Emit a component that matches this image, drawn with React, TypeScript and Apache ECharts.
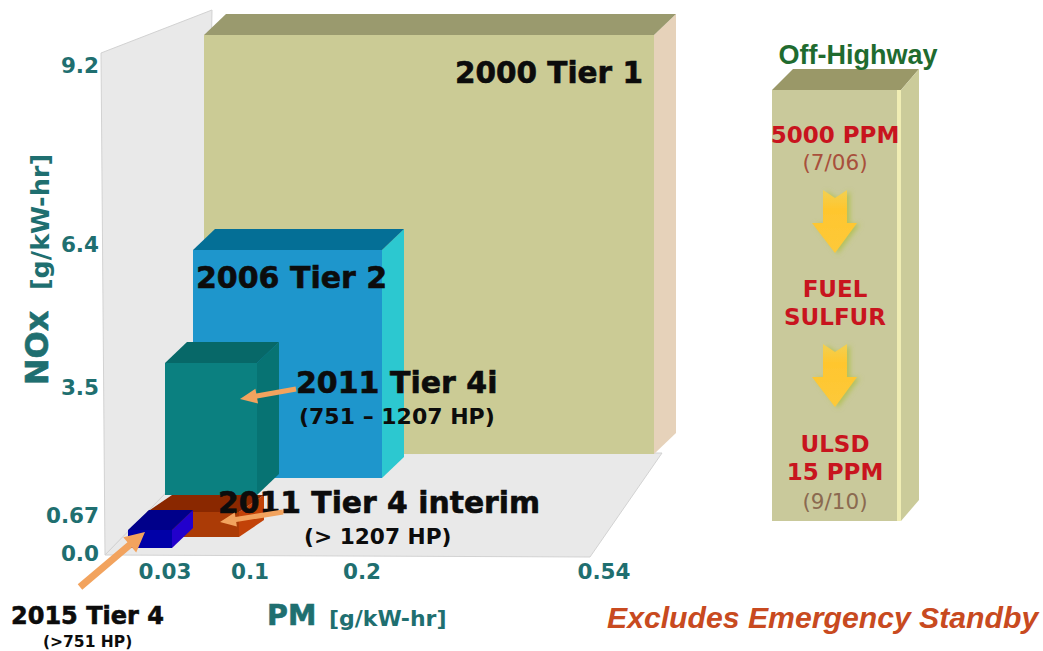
import React, { useEffect, useRef } from "react";
import * as echarts from "echarts";

// Emission limits per tier: PM and NOx in g/kW-hr
const tierNames = ["2000 Tier 1", "2006 Tier 2", "2011 Tier 4i", "2011 Tier 4 interim", "2015 Tier 4"];
const tierPm = [0.54, 0.2, 0.1, 0.1, 0.03];
const tierNox = [9.2, 6.4, 3.5, 0.67, 0.48];
const tierNotes = ["", "", "(751 – 1207 HP)", "(> 1207 HP)", "(>751 HP)"];

// Tick labels printed along the two axes
const pmTickLabels = ["0.03", "0.1", "0.2", "0.54"];
const noxTickLabels = ["0.0", "0.67", "3.5", "6.4", "9.2"];

// Off-Highway fuel sulfur steps
const sulfurLines = ["5000 PPM", "(7/06)", "FUEL", "SULFUR", "ULSD", "15 PPM", "(9/10)"];

// The axes of this schematic are not linear: where each tick sits on its axis
const pmTickSlots = [60, 145, 257, 499];
const noxTickSlots = [0, 38, 166, 309, 488];

// Non-linear scales from a limit to the size of a box's front face
const pmScaleIn = [0, 0.03, 0.1, 0.2, 0.54];
const pmScaleOut = [0, 44, 92, 189, 450];
const noxScaleIn = [0, 0.67, 3.5, 6.4, 9.2];
const noxScaleOut = [0, 25, 132, 228, 419];

// Where each box stands on the floor, and how deep it is drawn
const boxFloorX = [99, 88, 60, 42, 23];
const boxFloorY = [99, 75, 58, 16, 5];
const boxDepthX = [22, 22, 22, 25, 21];
const boxDepthY = [21, 21, 21, 17, 20];
const boxFront = ["#cbcb95", "#1e96cc", "#0b8080", "#ab3b06", "#0000a8"];
const boxTop = ["#9a9a6e", "#046f96", "#076868", "#8a2800", "#00008a"];
const boxSide = ["#e6d2ba", "#2cc8d0", "#077373", "#c24208", "#2200cc"];

const wallOutline = [[-4, 500], [107, 543], [99, 99], [0, -2]];
const floorOutline = [[0, -2], [485, -4], [557, 100], [99, 99]];

const TEAL = "#1f6f70";
const FONT = "'DejaVu Sans', Verdana, sans-serif";

function lookup(xs: number[], ys: number[], v: number) {
  for (let i = 1; i < xs.length; i++) {
    if (v <= xs[i]) {
      return ys[i - 1] + ((v - xs[i - 1]) / (xs[i] - xs[i - 1])) * (ys[i] - ys[i - 1]);
    }
  }
  return ys[ys.length - 1];
}

function renderStage(_: any, api: any) {
  const poly = (pts: number[][], fill: string, stroke?: string) => ({
    type: "polygon",
    shape: { points: pts.map((p) => api.coord(p)) },
    style: { fill, stroke: stroke ?? null, lineWidth: stroke ? 1 : 0 },
  });
  return {
    type: "group",
    children: [poly(wallOutline, "#e9e9e9", "#d2d2d2"), poly(floorOutline, "#e9e9e9", "#d2d2d2")],
  };
}

function renderBox(params: any, api: any) {
  const i = params.dataIndex;
  const w = lookup(pmScaleIn, pmScaleOut, api.value(0));
  const h = lookup(noxScaleIn, noxScaleOut, api.value(1));
  const x0 = boxFloorX[i];
  const y0 = boxFloorY[i];
  const dx = boxDepthX[i];
  const dy = boxDepthY[i];
  const poly = (pts: number[][], fill: string) => ({
    type: "polygon",
    shape: { points: pts.map((p) => api.coord(p)) },
    style: { fill },
  });
  return {
    type: "group",
    children: [
      poly([[x0 + w, y0], [x0 + w + dx, y0 + dy], [x0 + w + dx, y0 + h + dy], [x0 + w, y0 + h]], boxSide[i]),
      poly([[x0, y0 + h], [x0 + w, y0 + h], [x0 + w + dx, y0 + h + dy], [x0 + dx, y0 + h + dy]], boxTop[i]),
      poly([[x0, y0], [x0 + w, y0], [x0 + w, y0 + h], [x0, y0 + h]], boxFront[i]),
    ],
  };
}

const label = (text: string, x: number, y: number, size: number, fill = "#0c0c0c", extra: any = {}) => ({
  type: "text",
  z: 100,
  x,
  y,
  ...extra,
  style: {
    text,
    fill,
    stroke: extra.heavy ? fill : null,
    lineWidth: extra.heavy ? 0.6 : 0,
    font: `${extra.weight ?? "bold"} ${size}px ${extra.family ?? FONT}`,
    textAlign: extra.align ?? "left",
    textVerticalAlign: "middle",
  },
});

function pointer(x0: number, y0: number, x1: number, y1: number, w: number, hw: number, hl: number) {
  const len = Math.hypot(x1 - x0, y1 - y0);
  const ux = (x1 - x0) / len;
  const uy = (y1 - y0) / len;
  const nx = -uy;
  const ny = ux;
  const bx = x1 - ux * hl;
  const by = y1 - uy * hl;
  return {
    type: "polygon",
    z: 101,
    shape: {
      points: [
        [x0 + (nx * w) / 2, y0 + (ny * w) / 2],
        [bx + (nx * w) / 2, by + (ny * w) / 2],
        [bx + (nx * hw) / 2, by + (ny * hw) / 2],
        [x1, y1],
        [bx - (nx * hw) / 2, by - (ny * hw) / 2],
        [bx - (nx * w) / 2, by - (ny * w) / 2],
        [x0 - (nx * w) / 2, y0 - (ny * w) / 2],
      ],
    },
    style: { fill: "#f2a35e" },
  };
}

function downArrow(top: number) {
  const c = 835;
  return {
    type: "polygon",
    z: 90,
    shape: {
      points: [
        [c - 12, top],
        [c, top + 8],
        [c + 12, top],
        [c + 12, top + 33],
        [c + 22, top + 33],
        [c, top + 63],
        [c - 23, top + 33],
        [c - 12, top + 33],
      ],
    },
    style: {
      fill: new echarts.graphic.LinearGradient(0, 0, 0, 1, [
        { offset: 0, color: "#f2d052" },
        { offset: 0.3, color: "#ffc62e" },
        { offset: 1, color: "#fdc93a" },
      ]),
      shadowColor: "rgba(170,190,60,0.7)",
      shadowBlur: 5,
      shadowOffsetX: 3,
      shadowOffsetY: 1,
    },
  };
}

function panel() {
  const poly = (points: number[][], fill: string, z = 5) => ({ type: "polygon", z, shape: { points }, style: { fill } });
  return [
    poly([[772, 90], [793, 69], [919, 69], [901, 90]], "#9a9868"),
    poly([[901, 90], [919, 69], [919, 500], [901, 521]], "#cbcb9a"),
    poly([[772, 90], [897, 90], [897, 521], [772, 521]], "#c9c99b"),
    poly([[897, 90], [901, 90], [901, 521], [897, 521]], "#f0edb4"),
  ];
}

export default function App() {
  const ref = useRef<HTMLDivElement>(null);
  useEffect(() => {
    const chart = echarts.init(ref.current!, undefined, { renderer: "svg" });
    const RED = "#c8141e";
    const heavy = { heavy: true };
    chart.setOption({
      animation: false,
      backgroundColor: "#ffffff",
      grid: { left: 105, top: 14, width: 571, height: 539 },
      xAxis: {
        type: "value",
        min: 0,
        max: 571,
        splitLine: { show: false },
        axisLine: { show: false },
        axisTick: { show: false },
        axisLabel: {
          customValues: pmTickSlots,
          margin: 7,
          color: TEAL,
          fontFamily: FONT,
          fontWeight: "bold",
          fontSize: 21.5,
          formatter: (v: number) => pmTickLabels[pmTickSlots.indexOf(v)] ?? "",
        },
      },
      yAxis: {
        type: "value",
        min: 0,
        max: 539,
        splitLine: { show: false },
        axisLine: { show: false },
        axisTick: { show: false },
        axisLabel: {
          customValues: noxTickSlots,
          margin: 6,
          color: TEAL,
          fontFamily: FONT,
          fontWeight: "bold",
          fontSize: 21.5,
          formatter: (v: number) => noxTickLabels[noxTickSlots.indexOf(v)] ?? "",
        },
      },
      series: [
        {
          type: "custom",
          name: "Stage",
          clip: false,
          silent: true,
          z: 1,
          data: [[0, 0]],
          renderItem: renderStage,
        },
        {
          type: "custom",
          name: "Limits",
          clip: false,
          silent: true,
          z: 2,
          data: tierNames.map((_, i) => [tierPm[i], tierNox[i]]),
          encode: { x: 0, y: 1 },
          renderItem: renderBox,
        },
      ],
      graphic: {
        elements: [
          ...panel(),
          downArrow(190),
          downArrow(344),
          label(tierNames[0], 455, 73, 29.5, undefined, heavy),
          label(tierNames[1], 196, 277, 30, undefined, heavy),
          label(tierNames[2], 296, 382, 30, undefined, heavy),
          label(tierNotes[2], 299, 416, 22),
          label(tierNames[3], 218, 502, 29.8, undefined, heavy),
          label(tierNotes[3], 304, 536, 21.7),
          label(tierNames[4], 11, 616, 24, undefined, heavy),
          label(tierNotes[4], 43, 642, 15.5),
          pointer(296, 389, 240, 399, 5, 15, 17),
          pointer(283, 512, 220, 522, 5, 14, 16),
          pointer(80, 587, 145, 532, 7, 20, 20),
          label("PM", 267, 615, 28.5, TEAL, heavy),
          label("[g/kW-hr]", 329, 618, 22, TEAL),
          label("NOx", 37, 348, 32, TEAL, { rotation: Math.PI / 2, align: "center", heavy: true }),
          label("[g/kW-hr]", 40, 222, 25.5, TEAL, { rotation: Math.PI / 2, align: "center" }),
          label("Off-Highway", 858, 55, 27, "#1f6b2f", { align: "center", family: "'Liberation Sans', Arial, sans-serif" }),
          label(sulfurLines[0], 835, 135, 23, RED, { align: "center" }),
          label(sulfurLines[1], 835, 162, 21.5, "#a8503c", { align: "center", weight: "normal" }),
          label(sulfurLines[2], 835, 289, 23, RED, { align: "center" }),
          label(sulfurLines[3], 835, 317, 23, RED, { align: "center" }),
          label(sulfurLines[4], 835, 444, 23, RED, { align: "center" }),
          label(sulfurLines[5], 835, 472, 23, RED, { align: "center" }),
          label(sulfurLines[6], 835, 501, 21.5, "#8b6a50", { align: "center", weight: "normal" }),
          label("Excludes Emergency Standby", 607, 617, 30.2, "#c84a20", {
            weight: "italic bold",
            family: "'Liberation Sans', Arial, sans-serif",
          }),
        ],
      },
    });
    return () => chart.dispose();
  }, []);
  return <div ref={ref} style={{ position: "fixed", left: 0, top: 0, width: 1043, height: 651 }} />;
}
